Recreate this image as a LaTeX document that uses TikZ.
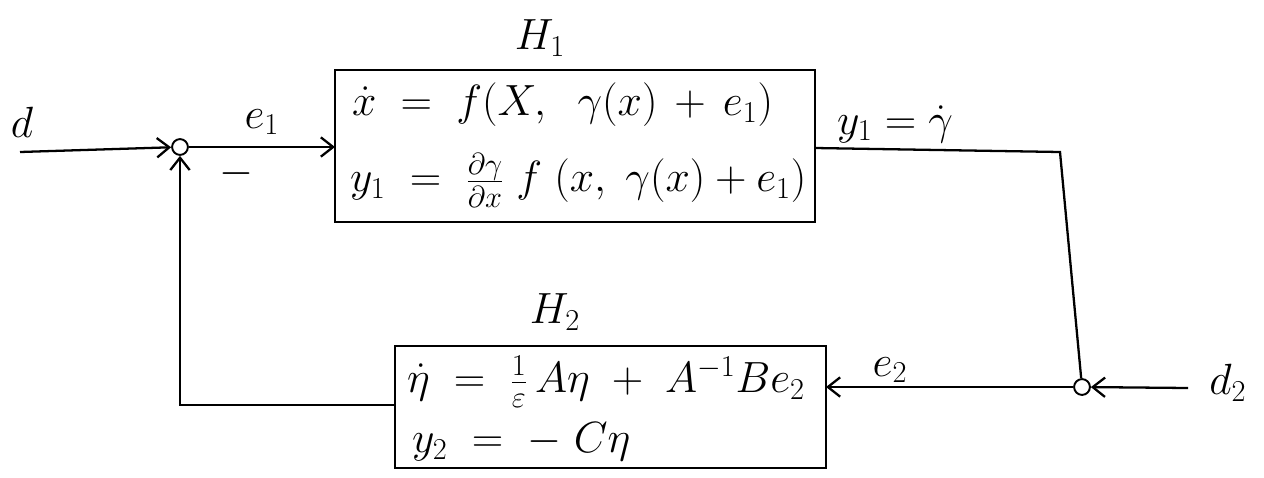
\documentclass[tikz,border=0pt]{standalone}
\usetikzlibrary{arrows.meta}
\begin{document}
\begin{tikzpicture}[x=0.02cm,y=-0.02cm,
  line width=1.3pt,
  sig/.style={-{Straight Barb[length=7pt,width=11pt]}},
  blk/.style={draw,line width=1.3pt},
  lbl/.style={font=\fontsize{25}{29}\selectfont},
  sumc/.style={circle,draw,line width=1.1pt,inner sep=0pt,minimum size=9pt}]
\useasboundingbox (0,0) rectangle (1264,477);
% blocks
\draw[blk] (335,70) rectangle (815,222);
\coordinate (h1w) at (335,145);
\coordinate (h1e) at (815,148);
\draw[blk] (395,346) rectangle (826,468);
\coordinate (h2w) at (395,407);
\coordinate (h2e) at (826,398);
% block contents
\node[lbl,anchor=west] (h1a) at (345,105) {$\dot{x} \;=\; f(X,\;\; \gamma(x) \,+\, e_1)$};
\node[lbl,anchor=west] (h1b) at (343,180) {$y_1 \;=\; \frac{\partial\gamma}{\partial x}\; f\;(x,\;\gamma(x) + e_1)$};
\node[lbl,anchor=west] (h2a) at (400,382) {$\dot{\eta} \;=\; \frac{1}{\varepsilon}\,A\eta \;+\; A^{-1}Be_2$};
\node[lbl,anchor=west] (h2b) at (405,442) {$y_2 \;=\; -\;C\eta$};
% block labels
\node[lbl] (H1) at (540,38) {$H_1$};
\node[lbl] (H2) at (555,312) {$H_2$};
% summing junctions
\node[sumc] (s1) at (180,147) {};
\node[sumc] (s2) at (1082,387) {};
% inputs
\coordinate (din) at (20,152);
\coordinate (d2in) at (1188,388);
\node[lbl] (dl) at (22,122) {$d$};
\node[lbl] (d2l) at (1228,383) {$d_2$};
\draw[sig] (din) -- (s1);
\draw[sig] (d2in) -- (s2);
% forward path
\draw[sig] (s1) -- (h1w |- s1) node[pos=0.5,above=3pt,lbl] (e1l) {$e_1$};
\node[lbl] (minus) at (236,174) {$-$};
% H1 output to s2
\coordinate (c1) at (1060,152);
\draw (h1e) -- (c1) -- (s2);
\node[lbl] (y1l) at (895,124) {$y_1 = \dot{\gamma}$};
% s2 to H2
\draw[sig] (s2) -- (h2e |- s2);
\node[lbl] (e2l) at (890,370) {$e_2$};
% feedback
\coordinate (c2) at (180,405);
\draw[sig] (h2w |- c2) -- (c2) -- (s1);
\end{tikzpicture}
\end{document}
